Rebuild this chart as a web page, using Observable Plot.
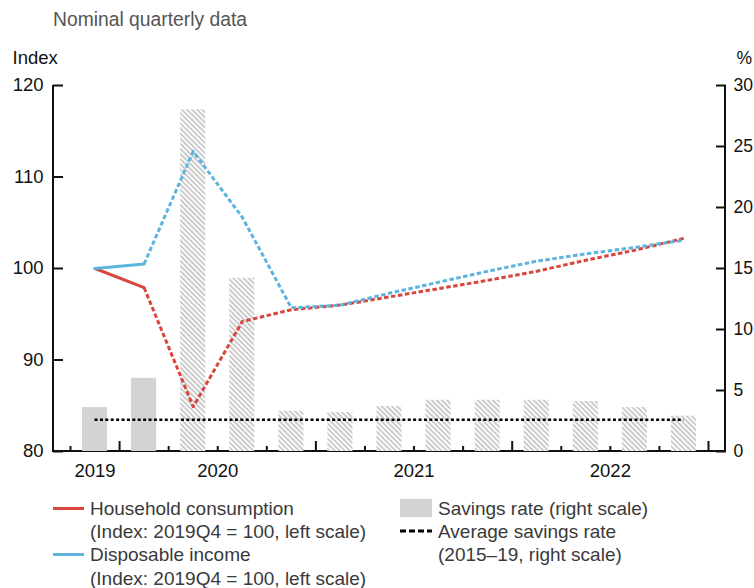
<!DOCTYPE html>
<html><head><meta charset="utf-8">
<script src="https://cdn.jsdelivr.net/npm/d3@7"></script>
<script src="https://cdn.jsdelivr.net/npm/@observablehq/plot@0.6"></script>
<style>
body{margin:0;background:#fff;overflow:hidden;font-family:"Liberation Sans",Arial,sans-serif;}
#wrap{position:relative;width:754px;height:588px;overflow:hidden;}
.sub{position:absolute;left:53px;top:10px;font-size:19.3px;line-height:19px;color:#555;white-space:nowrap;}
#chart{position:absolute;left:0;top:36px;}
.leg{position:absolute;font-size:19px;line-height:23px;color:#3a3a3a;white-space:nowrap;}
.sw{position:absolute;}
</style></head>
<body>
<div id="wrap">
  <div class="sub">Nominal quarterly data</div>
  <div id="chart"></div>
  <div id="legend"></div>
</div>
<script>
// ---- data ----
const quarters = ["2019Q4","2020Q1","2020Q2","2020Q3","2020Q4","2021Q1","2021Q2","2021Q3","2021Q4","2022Q1","2022Q2","2022Q3","2022Q4"];
const consumption = [100, 97.9, 84.9, 94.2, 95.5, 96.0, 96.9, 97.8, 98.7, 99.7, 100.9, 102.0, 103.3];
const income = [100, 100.5, 112.8, 105.6, 95.7, 96.0, 97.3, 98.5, 99.7, 100.8, 101.6, 102.3, 103.1];
const savingsRate = [3.6, 6.0, 28.0, 14.2, 3.3, 3.2, 3.7, 4.2, 4.2, 4.2, 4.1, 3.6, 2.9];
const avgSavingsRate = [2.6];
const lastActual = "2020Q1";
const leftTicks = [80, 90, 100, 110, 120];
const rightTicks = [0, 5, 10, 15, 20, 25, 30];
const leftDomain = [80, 120];
const rightDomain = [0, 30];

// ---- derived ----
const n = quarters.length;
const actualIdx = quarters.indexOf(lastActual);
const toLeft = v => leftDomain[0] + (v - rightDomain[0]) * (leftDomain[1] - leftDomain[0]) / (rightDomain[1] - rightDomain[0]);
const toRight = v => rightDomain[0] + (v - leftDomain[0]) * (rightDomain[1] - rightDomain[0]) / (leftDomain[1] - leftDomain[0]);
const rows = quarters.map((q, i) => ({i, q, year: q.slice(0, 4), qn: +q.slice(5), c: consumption[i], inc: income[i], s: savingsRate[i], proj: i > actualIdx}));
const yearNames = Array.from(new Set(rows.map(d => d.year)));
const yearLabels = yearNames.map(y => ({year: y, pos: d3.mean(rows.filter(d => d.year === y), d => d.i)}));
const bounds = d3.range(n + 1).map(k => k - 0.5);
const yearBounds = bounds.filter(b => { const k = b + 0.5; return k === n || (k < n && rows[k].qn === 1); });
const quarterBounds = bounds.filter(b => !yearBounds.includes(b));

const RED = "#d8463e", BLUE = "#5db5de", GRAY = "#d3d3d5", HATCH = "#cacaca", INK = "#111";
const W = 754, H = 445, mL = 53, mR = 29, mT = 49, mB = 30;

const defsMark = () => {
  const defs = d3.create("svg:defs");
  const p = defs.append("pattern").attr("id", "hatch").attr("patternUnits", "userSpaceOnUse")
    .attr("width", 3.6).attr("height", 3.6).attr("patternTransform", "rotate(-45)");
  p.append("rect").attr("width", 3.6).attr("height", 3.6).attr("fill", "#fff");
  p.append("rect").attr("width", 1.9).attr("height", 3.6).attr("fill", HATCH);
  return defs.node();
};
const frameMark = (index, scales, values, dim) => {
  return d3.create("svg:path")
    .attr("d", `M${dim.marginLeft},${dim.marginTop}V${dim.height - dim.marginBottom}H${dim.width - dim.marginRight}V${dim.marginTop}`)
    .attr("fill", "none").attr("stroke", INK).attr("stroke-width", 2).node();
};
const noText = () => "";
const dashed = {strokeWidth: 3, strokeDasharray: "4.5,2.5", strokeLinecap: "butt"};

const chart = Plot.plot({
  width: W, height: H, marginLeft: mL, marginRight: mR, marginTop: mT, marginBottom: mB,
  x: {type: "linear", domain: [-0.5, n - 0.5], range: [mL + 17, W - mR - 17], axis: null},
  y: {domain: leftDomain, axis: null},
  style: {fontFamily: "'Liberation Sans', Arial, sans-serif", fontSize: "18.5px", color: INK, background: "#fff", overflow: "visible"},
  marks: [
    defsMark,
    frameMark,
    Plot.rectY(rows.filter(d => !d.proj), {x1: d => d.i - 0.5, x2: d => d.i + 0.5, y1: leftDomain[0], y2: d => toLeft(d.s), insetLeft: 12, insetRight: 12, fill: GRAY}),
    Plot.rectY(rows.filter(d => d.proj), {x1: d => d.i - 0.5, x2: d => d.i + 0.5, y1: leftDomain[0], y2: d => toLeft(d.s), insetLeft: 12, insetRight: 12, fill: "url(#hatch)"}),
    // left axis
    Plot.axisY(leftTicks, {anchor: "left", tickSize: 10, dx: 10, tickFormat: noText, label: null, strokeWidth: 2, stroke: INK}),
    Plot.axisY(leftTicks, {anchor: "left", tickSize: 0, tickPadding: 10, label: null, fill: INK}),
    // right axis
    Plot.axisY(rightTicks.map(toLeft), {anchor: "right", tickSize: 10, dx: -10, tickFormat: noText, label: null, strokeWidth: 2, stroke: INK}),
    Plot.axisY(rightTicks.map(toLeft), {anchor: "right", tickSize: 0, tickPadding: 8, label: null, fill: INK, fontSize: 17.5, tickFormat: v => String(Math.round(toRight(v)))}),
    // bottom axis
    Plot.axisX(yearBounds, {anchor: "bottom", tickSize: 10, dy: -10, tickFormat: noText, label: null, strokeWidth: 2, stroke: INK}),
    Plot.axisX(quarterBounds, {anchor: "bottom", tickSize: 5, dy: -5, tickFormat: noText, label: null, strokeWidth: 2, stroke: INK}),
    Plot.text(yearLabels, {x: "pos", text: "year", frameAnchor: "bottom", lineAnchor: "middle", dy: 20, fill: INK}),
    Plot.text(["Index"], {frameAnchor: "top-left", lineAnchor: "middle", textAnchor: "start", dx: -41, dy: -27, fill: INK}),
    Plot.text(["%"], {frameAnchor: "top-right", lineAnchor: "middle", textAnchor: "start", dx: 11, dy: -27, fontSize: 17.5, fill: INK}),
    Plot.ruleY(avgSavingsRate, {y: d => toLeft(d), x1: 0, x2: n - 1, stroke: "#000", strokeWidth: 2.6, strokeDasharray: "3,2.4"}),
    Plot.line(rows.filter(d => d.i >= actualIdx), {x: "i", y: "c", stroke: RED, ...dashed}),
    Plot.line(rows.filter(d => d.i >= actualIdx), {x: "i", y: "inc", stroke: BLUE, ...dashed}),
    Plot.line(rows.filter(d => d.i <= actualIdx), {x: "i", y: "c", stroke: RED, strokeWidth: 3}),
    Plot.line(rows.filter(d => d.i <= actualIdx), {x: "i", y: "inc", stroke: BLUE, strokeWidth: 3})
  ]
});
document.getElementById("chart").appendChild(chart);

// ---- legend ----
const legendItems = [
  {col: 0, row: 0, text: "Household consumption", swatch: "line", color: RED},
  {col: 0, row: 1, text: "(Index: 2019Q4 = 100, left scale)"},
  {col: 0, row: 2, text: "Disposable income", swatch: "line", color: BLUE},
  {col: 0, row: 3, text: "(Index: 2019Q4 = 100, left scale)"},
  {col: 1, row: 0, text: "Savings rate (right scale)", swatch: "box", color: GRAY},
  {col: 1, row: 1, text: "Average savings rate", swatch: "dash", color: "#000"},
  {col: 1, row: 2, text: "(2015\u201319, right scale)"}
];
const leg = d3.select("#legend");
const colX = [53, 400], rowY = [508, 531.3, 554.6, 578], swW = [31, 32], txtGap = 6;
legendItems.forEach(it => {
  const x0 = colX[it.col], cy = rowY[it.row];
  leg.append("div").attr("class", "leg").style("left", (x0 + swW[it.col] + txtGap) + "px").style("top", (cy - 11.5) + "px").text(it.text);
  if (it.swatch === "line") {
    leg.append("div").attr("class", "sw").style("left", x0 + "px").style("top", (cy - 1.5) + "px").style("width", swW[it.col] + "px").style("height", "3px").style("background", it.color);
  } else if (it.swatch === "box") {
    leg.append("div").attr("class", "sw").style("left", x0 + "px").style("top", (cy - 9) + "px").style("width", swW[it.col] + "px").style("height", "18px").style("background", it.color);
  } else if (it.swatch === "dash") {
    const s = leg.append("svg").attr("class", "sw").style("left", x0 + "px").style("top", (cy - 2) + "px").attr("width", swW[it.col]).attr("height", 4);
    s.append("line").attr("x1", 0).attr("x2", swW[it.col]).attr("y1", 2).attr("y2", 2).attr("stroke", it.color).attr("stroke-width", 3).attr("stroke-dasharray", "6,3");
  }
});
</script>
</body></html>
